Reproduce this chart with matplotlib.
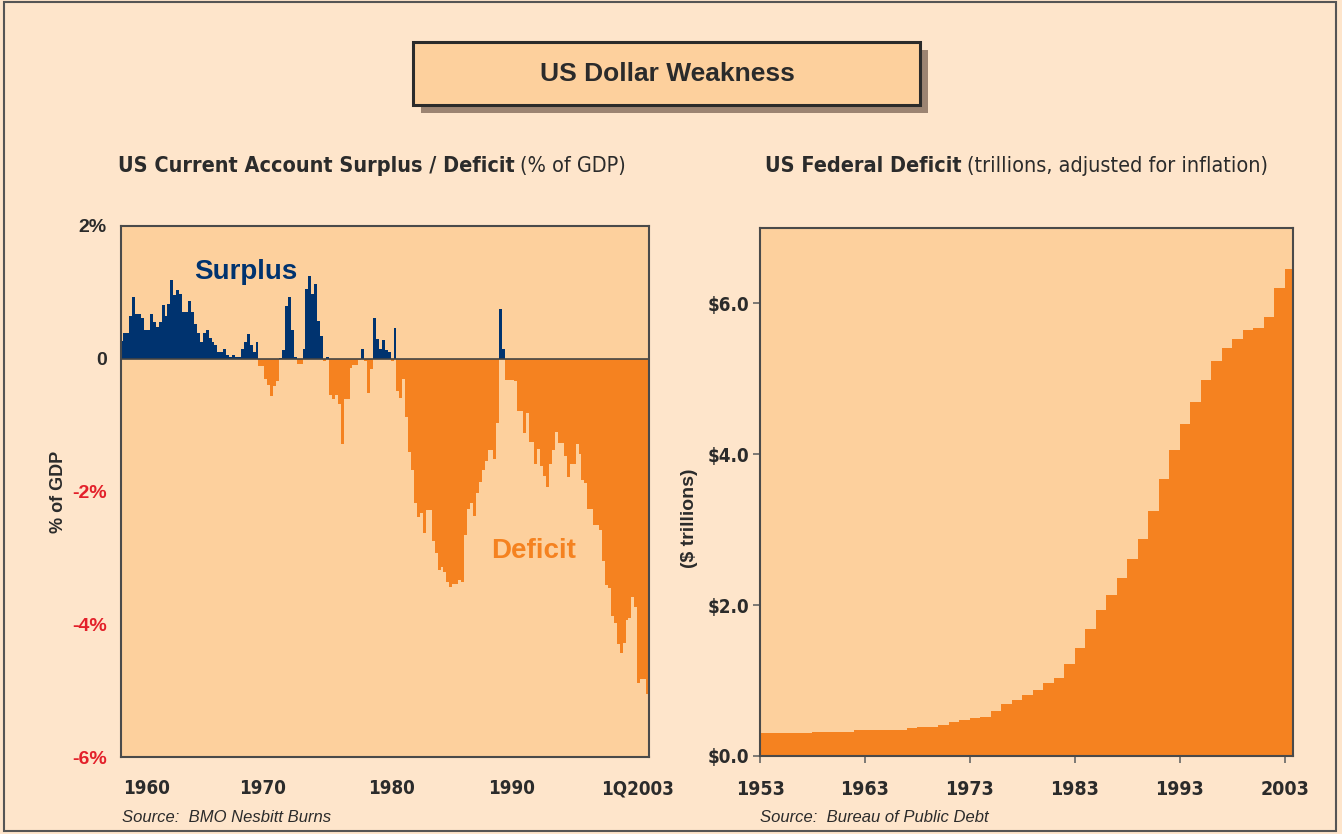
import numpy as np
import matplotlib.pyplot as plt
from matplotlib.patches import Rectangle
from matplotlib import font_manager

# --- data ---
# US current account balance, % of GDP, quarterly from 2Q1958 to 1Q2003
ca_start = 1958.25
ca_values = [
    0.26, 0.39, 0.39, 0.64, 0.93, 0.67, 0.67, 0.62, 0.44, 0.44,
    0.67, 0.55, 0.48, 0.55, 0.81, 0.64, 0.83, 1.18, 0.96, 1.03,
    0.98, 0.70, 0.70, 0.87, 0.70, 0.52, 0.39, 0.25, 0.39, 0.43,
    0.32, 0.25, 0.20, 0.10, 0.10, 0.14, 0.05, 0.02, 0.05, 0.02,
    0.02, 0.14, 0.25, 0.37, 0.20, 0.10, 0.25, -0.11, -0.11, -0.30,
    -0.39, -0.56, -0.41, -0.34, 0.01, 0.13, 0.79, 0.93, 0.44, 0.03,
    -0.08, -0.08, 0.14, 1.05, 1.25, 0.98, 1.12, 0.57, 0.35, -0.03,
    0.03, -0.54, -0.60, -0.54, -0.68, -1.28, -0.61, -0.61, -0.14, -0.09,
    -0.09, -0.02, 0.14, -0.03, -0.52, -0.16, 0.61, 0.30, 0.14, 0.28,
    0.13, 0.10, -0.04, 0.47, -0.49, -0.59, -0.31, -0.88, -1.41, -1.68,
    -2.18, -2.38, -2.33, -2.63, -2.28, -2.28, -2.74, -2.93, -3.19, -3.13,
    -3.21, -3.36, -3.44, -3.39, -3.39, -3.34, -3.36, -2.66, -2.26, -2.17,
    -2.37, -2.02, -1.86, -1.68, -1.54, -1.38, -1.38, -1.51, -0.97, 0.75,
    0.14, -0.32, -0.32, -0.32, -0.34, -0.78, -0.78, -1.12, -0.82, -1.26,
    -1.26, -1.59, -1.36, -1.62, -1.76, -1.93, -1.58, -1.38, -1.10, -1.27,
    -1.27, -1.46, -1.78, -1.58, -1.58, -1.28, -1.43, -1.83, -1.87, -2.26,
    -2.26, -2.51, -2.51, -2.58, -3.04, -3.41, -3.46, -3.87, -3.98, -4.30,
    -4.44, -4.29, -3.93, -3.91, -3.59, -3.74, -4.89, -4.83, -4.83, -5.05,
]
ca_tick_pos = [1960.5, 1970.35, 1981.3, 1991.5, 2002.3]
ca_tick_labels = ['1960', '1970', '1980', '1990', '1Q2003']
ca_ytick_pos = [2, 0, -2, -4, -6]
ca_ytick_labels = ['2%', '0', '-2%', '-4%', '-6%']

# US federal debt, trillions of dollars (inflation adjusted), annual
debt_years = list(range(1953, 2004))
debt_values = [
    0.30, 0.30, 0.31, 0.30, 0.30, 0.32, 0.32, 0.32, 0.32, 0.34,
    0.34, 0.34, 0.35, 0.35, 0.37, 0.39, 0.39, 0.41, 0.45, 0.48,
    0.50, 0.52, 0.60, 0.69, 0.74, 0.81, 0.88, 0.97, 1.04, 1.22,
    1.43, 1.68, 1.94, 2.14, 2.36, 2.61, 2.88, 3.25, 3.67, 4.06,
    4.40, 4.69, 4.99, 5.24, 5.41, 5.53, 5.65, 5.67, 5.82, 6.21,
    6.45,
]
debt_xticks = [1953, 1963, 1973, 1983, 1993, 2003]
debt_yticks = [0, 2, 4, 6]
debt_ytick_labels = ['$0.0', '$2.0', '$4.0', '$6.0']

# --- colours / fonts ---
BG = '#FEE5CB'
PANEL = '#FDD09D'
ORANGE = '#F58220'
NAVY = '#00336F'
RED = '#E3202A'
DARK = '#2B2B2B'
SPINE = '#4A4A4A'
SANS = ['Liberation Sans', 'DejaVu Sans']

plt.rcParams['font.family'] = SANS

# condensed face for the headings and year labels, if installed
names = {f.name for f in font_manager.fontManager.ttflist}
has_cond = any(f.name == 'DejaVu Sans' and f.stretch == 'condensed'
               for f in font_manager.fontManager.ttflist)
if 'Liberation Sans Narrow' in names:
    NARROW = dict(family=['Liberation Sans Narrow'])
elif has_cond:
    NARROW = dict(family=['DejaVu Sans'], stretch='condensed')
else:
    NARROW = dict(family=SANS)

W, H = 1342, 834
fig = plt.figure(figsize=(W / 100, H / 100), dpi=100, facecolor=BG)


def fx(px):
    return px / W


def fy(py):
    return 1 - py / H


# outer frame
fig.patches.append(Rectangle((fx(4), fy(831)), fx(1332), 829 / H, transform=fig.transFigure,
                             fill=False, edgecolor='#555555', lw=1.5))

# title box with shadow
bx, by, bw, bh = fx(413), fy(105), fx(507), 63 / H
fig.patches.append(Rectangle((bx + fx(8), by - 8 / H), bw, bh, transform=fig.transFigure,
                             facecolor='#9C8472', edgecolor='none', zorder=1))
fig.patches.append(Rectangle((bx, by), bw, bh, transform=fig.transFigure,
                             facecolor=PANEL, edgecolor=DARK, lw=2.2, zorder=2))
fig.text(fx(667), fy(74), 'US Dollar Weakness', ha='center', va='center',
         fontsize=19, fontweight='bold', color=DARK, zorder=3)

# subtitles: bold part followed by regular part
renderer = fig.canvas.get_renderer()


def subtitle(x0, bold, regular):
    t = fig.text(fx(x0), fy(172), bold, ha='left', va='baseline', fontsize=15.5,
                 fontweight='bold', color=DARK, **NARROW)
    bb = t.get_window_extent(renderer)
    fig.text(bb.x1 / W + fx(5), fy(172), regular, ha='left', va='baseline',
             fontsize=15.5, color=DARK, **NARROW)


subtitle(118, 'US Current Account Surplus / Deficit', '(% of GDP)')
subtitle(765, 'US Federal Deficit', '(trillions, adjusted for inflation)')

# --- left chart: current account ---
ax1 = fig.add_axes([fx(120.5), fy(757), fx(528.5), 531 / H])
ax1.set_facecolor(PANEL)
vals = np.array(ca_values)
edges = ca_start + 0.25 * np.arange(len(vals) + 1)
pos = np.clip(vals, 0, None)
neg = np.clip(vals, None, 0)
ax1.fill_between(edges, np.append(pos, pos[-1]), step='post', color=NAVY, lw=0)
ax1.fill_between(edges, np.append(neg, neg[-1]), step='post', color=ORANGE, lw=0)
ax1.axhline(0, color='#444444', lw=1.2)
ax1.set_xlim(edges[0], edges[-1])
ax1.set_ylim(-6, 2)
ax1.set_xticks(ca_tick_pos)
ax1.set_xticklabels(ca_tick_labels, fontsize=13.5, fontweight='bold', color=DARK, **NARROW)
ax1.set_yticks(ca_ytick_pos)
ax1.set_yticklabels(ca_ytick_labels, fontsize=14, fontweight='bold')
for lab, v in zip(ax1.get_yticklabels(), ca_ytick_pos):
    lab.set_color(DARK if v >= 0 else RED)
ax1.tick_params(axis='both', length=0)
ax1.tick_params(axis='y', pad=10)
ax1.tick_params(axis='x', pad=16)
for s in ax1.spines.values():
    s.set_color(SPINE)
    s.set_linewidth(1.5)
ax1.set_ylabel('% of GDP', fontsize=13, fontweight='bold', color=DARK)
ax1.yaxis.set_label_coords((67 - 120.5) / 528.5, 0.5)
ax1.text(1968.9, 1.3, 'Surplus', color=NAVY, fontsize=20, fontweight='bold',
         ha='center', va='center')
ax1.text(1993.4, -2.9, 'Deficit', color=ORANGE, fontsize=20, fontweight='bold',
         ha='center', va='center')

# --- right chart: federal debt ---
ax2 = fig.add_axes([fx(760), fy(756), fx(533), 528 / H])
ax2.set_facecolor(PANEL)
x_end = 2003.8
dx = np.append(debt_years, x_end)
dv = np.append(debt_values, debt_values[-1])
ax2.fill_between(dx, dv, step='post', color=ORANGE, lw=0)
ax2.set_xlim(1953, x_end)
ax2.set_ylim(0, 7)
ax2.set_xticks(debt_xticks)
ax2.set_xticklabels([str(y) for y in debt_xticks], fontsize=14, fontweight='bold',
                    color=DARK, **NARROW)
ax2.set_yticks(debt_yticks)
ax2.set_yticklabels(debt_ytick_labels, fontsize=13.5, fontweight='bold', color=DARK, **NARROW)
ax2.tick_params(axis='both', direction='out', length=5, width=1.2, color='#666666')
ax2.tick_params(axis='x', pad=12)
ax2.tick_params(axis='y', pad=3)
for s in ax2.spines.values():
    s.set_color(SPINE)
    s.set_linewidth(1.5)
ax2.set_ylabel('($ trillions)', fontsize=14, fontweight='bold', color=DARK)
ax2.yaxis.set_label_coords((698 - 760) / 533, 0.45)

# sources
fig.text(fx(122), fy(818), 'Source:  BMO Nesbitt Burns', fontsize=12, style='italic',
         color=DARK, va='center', ha='left')
fig.text(fx(760), fy(818), 'Source:  Bureau of Public Debt', fontsize=12, style='italic',
         color=DARK, va='center', ha='left')

fig.savefig('out.png', dpi=100, facecolor=BG)
